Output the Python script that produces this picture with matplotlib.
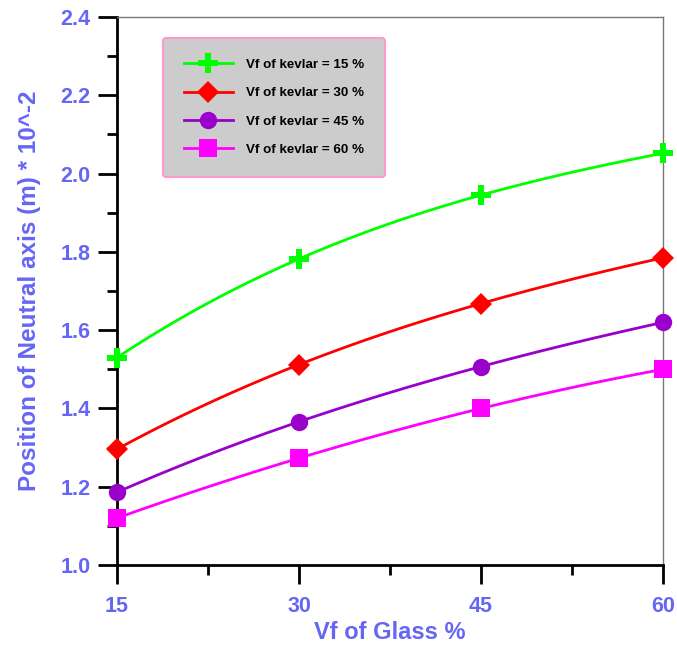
import numpy as np
import matplotlib
matplotlib.use("Agg")
import matplotlib.pyplot as plt
from matplotlib.ticker import MultipleLocator

# data
glass = [15, 30, 45, 60]
kevlar_15 = [1.53, 1.782, 1.945, 2.052]
kevlar_30 = [1.296, 1.512, 1.668, 1.785]
kevlar_45 = [1.186, 1.366, 1.507, 1.620]
kevlar_60 = [1.120, 1.273, 1.400, 1.500]
labels = ['Vf of kevlar = 15 %', 'Vf of kevlar = 30 %',
          'Vf of kevlar = 45 %', 'Vf of kevlar = 60 %']

series = [kevlar_15, kevlar_30, kevlar_45, kevlar_60]
colors = ['#00FF00', '#FF0000', '#9900CC', '#FF00FF']
markers = ['P', 'D', 'o', 's']
msizes = [14, 11.5, 12.5, 13]

blue = '#6666F5'
plt.rcParams['font.family'] = ['Liberation Sans', 'DejaVu Sans']

fig = plt.figure(figsize=(6.77, 6.45), dpi=100)
ax = fig.add_axes([0.1728, 0.124, 0.8065, 0.8496])

xs = np.linspace(15, 60, 200)
for y, c, m, ms, lab in zip(series, colors, markers, msizes, labels):
    # smooth curve through the 4 points (exact cubic)
    coef = np.polyfit(glass, y, 3)
    ax.plot(xs, np.polyval(coef, xs), color=c, lw=2, zorder=3)
    ax.plot(glass, y, linestyle='none', marker=m, ms=ms, color=c,
            markeredgewidth=0, zorder=4, clip_on=False)
    ax.plot([], [], color=c, lw=2, marker=m, ms=ms, markeredgewidth=0, label=lab)

ax.set_xlim(15, 60)
ax.set_ylim(1.0, 2.4)
ax.xaxis.set_major_locator(MultipleLocator(15))
ax.xaxis.set_minor_locator(MultipleLocator(7.5))
ax.yaxis.set_major_locator(MultipleLocator(0.2))
ax.yaxis.set_minor_locator(MultipleLocator(0.1))
ax.yaxis.set_major_formatter(matplotlib.ticker.FormatStrFormatter('%.1f'))

ax.tick_params(which='major', direction='out', length=14, width=2, color='black',
               labelsize=15.5, labelcolor=blue)
ax.tick_params(axis='x', which='major', pad=8)
ax.tick_params(axis='y', which='major', pad=5)
ax.tick_params(which='minor', direction='out', length=7, width=2, color='black')
for lab in ax.get_xticklabels() + ax.get_yticklabels():
    lab.set_fontweight('bold')

for s in ['left', 'bottom']:
    ax.spines[s].set_linewidth(2)
for s in ['top', 'right']:
    ax.spines[s].set_linewidth(1)
    ax.spines[s].set_color('#777777')

ax.set_xlabel('Vf of Glass %', fontsize=17, fontweight='bold', color=blue, labelpad=3)
ax.set_ylabel('Position of Neutral axis (m) * 10^-2', fontsize=17.5,
              fontweight='bold', color=blue, labelpad=14)

leg = ax.legend(loc='upper left', bbox_to_anchor=(0.084, 0.962),
                prop={'weight': 'bold', 'size': 9.6}, fancybox=True,
                framealpha=1, facecolor='#CCCCCC', edgecolor='#FF99CC',
                borderpad=1.55, labelspacing=1.2, handlelength=3.7,
                handletextpad=1.0, borderaxespad=0)
leg.get_frame().set_linewidth(1.5)

fig.savefig('out.png', dpi=100)
